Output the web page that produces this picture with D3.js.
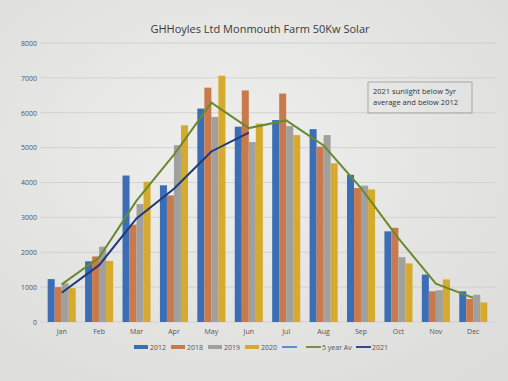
<html>
<script src='https://d3js.org/d3.v7.min.js'></script>
<style>
  body { margin: 0; background: #e3e3e1; }
  text { font-family: "Open Sans", "Liberation Sans", sans-serif; }
</style>
<body onload='init()'>
<svg width=508 height=381>
</svg>
<script>
// Monthly generation (kWh)
const months = ["Jan","Feb","Mar","Apr","May","Jun","Jul","Aug","Sep","Oct","Nov","Dec"];
const barSeries = ["2012","2018","2019","2020"];
const v2012 = [1230, 1740, 4200, 3920, 6120, 5600, 5790, 5530, 4220, 2600, 1360, 880];
const v2018 = [1000, 1880, 2790, 3630, 6720, 6640, 6550, 5030, 3840, 2700, 880, 660];
const v2019 = [1110, 2160, 3380, 5070, 5880, 5160, 5620, 5360, 3910, 1860, 910, 780];
const v2020 = [970, 1750, 4020, 5640, 7060, 5690, 5360, 4550, 3800, 1680, 1220, 560];
const fiveYearAv = [1080, 1850, 3480, 4800, 6290, 5560, 5780, 5060, 3840, 2400, 1100, 690];
const v2021 = [840, 1630, 2970, 3820, 4890, 5430];
const yTicks = [0, 1000, 2000, 3000, 4000, 5000, 6000, 7000, 8000];

function init() {
  const svg = d3.select("svg");

  // paper-like background shading from the photo
  const defs = svg.append("defs");
  const grad = defs.append("radialGradient").attr("id", "paper")
    .attr("cx", "45%").attr("cy", "40%").attr("r", "75%");
  grad.append("stop").attr("offset", "0%").attr("stop-color", "#efefed");
  grad.append("stop").attr("offset", "100%").attr("stop-color", "#dcdcda");
  svg.append("rect").attr("width", 508).attr("height", 381).attr("fill", "url(#paper)");

  const colors = {"2012": "#3b6eb4", "2018": "#c97a4c", "2019": "#a0a09f", "2020": "#d6aa2c"};

  const x = d3.scaleBand().domain(months).range([43, 492]).paddingInner(0.25).paddingOuter(0.125);
  const xs = d3.scaleBand().domain(barSeries).range([0, x.bandwidth()]);
  const y = d3.scaleLinear().domain([0, 8000]).range([322, 43]);

  // grid lines
  svg.append("g")
    .selectAll("line")
    .data(yTicks)
    .enter()
    .append("line")
      .attr("x1", 40).attr("x2", 496)
      .attr("y1", d => y(d)).attr("y2", d => y(d))
      .attr("stroke", "#cdcdcb").attr("stroke-width", 0.8);

  // y axis labels
  svg.append("g")
    .attr("transform", "translate(37,0)")
    .call(d3.axisLeft(y).tickValues(yTicks).tickFormat(d3.format("d")).tickSize(0).tickPadding(0))
    .call(g => g.select(".domain").remove())
    .selectAll("text")
      .attr("fill", "#555")
      .style("font-size", "7px");

  // x axis labels
  svg.append("g")
    .attr("transform", "translate(0,326)")
    .call(d3.axisBottom(x).tickSize(0).tickPadding(3))
    .call(g => g.select(".domain").remove())
    .selectAll("text")
      .attr("fill", "#555")
      .style("font-size", "7px");

  // bars
  const table = months.map((m, i) => ({
    month: m,
    vals: [v2012[i], v2018[i], v2019[i], v2020[i]].map((v, j) => ({key: barSeries[j], value: v}))
  }));
  svg.append("g")
    .selectAll("g")
    .data(table)
    .enter()
    .append("g")
      .attr("transform", d => "translate(" + x(d.month) + ",0)")
    .selectAll("rect")
    .data(d => d.vals)
    .enter()
    .append("rect")
      .attr("x", d => xs(d.key))
      .attr("width", xs.bandwidth())
      .attr("y", d => y(d.value))
      .attr("height", d => y(0) - y(d.value))
      .attr("fill", d => colors[d.key]);

  // lines
  const line = d3.line()
    .x((d, i) => x(months[i]) + x.bandwidth() / 2)
    .y(d => y(d));
  svg.append("path").datum(fiveYearAv)
    .attr("d", line).attr("fill", "none")
    .attr("stroke", "#6a8a2e").attr("stroke-width", 2);
  svg.append("path").datum(v2021)
    .attr("d", line).attr("fill", "none")
    .attr("stroke", "#1f3a7a").attr("stroke-width", 2);

  // title
  svg.append("text")
    .attr("x", 260).attr("y", 33)
    .attr("text-anchor", "middle")
    .attr("fill", "#3a3a3a")
    .style("font-size", "11px")
    .text("GHHoyles Ltd Monmouth Farm 50Kw Solar");

  // annotation box
  svg.append("rect")
    .attr("x", 368).attr("y", 82).attr("width", 104).attr("height", 31)
    .attr("fill", "none").attr("stroke", "#9a9a98").attr("stroke-width", 0.8);
  svg.append("text")
    .attr("x", 373).attr("y", 94)
    .attr("fill", "#333").style("font-size", "7.5px")
    .selectAll("tspan")
    .data(["2021 sunlight below 5yr", "average and below 2012"])
    .enter()
    .append("tspan")
      .attr("x", 373)
      .attr("dy", (d, i) => i === 0 ? 0 : 11)
      .text(d => d);

  // legend
  const legendItems = [
    {label: "2012", color: colors["2012"], type: "bar", x: 134},
    {label: "2018", color: colors["2018"], type: "bar", x: 171},
    {label: "2019", color: colors["2019"], type: "bar", x: 208},
    {label: "2020", color: colors["2020"], type: "bar", x: 245},
    {label: "", color: "#4a86c8", type: "line", x: 282},
    {label: "5 year Av", color: "#6a8a2e", type: "line", x: 306},
    {label: "2021", color: "#1f3a7a", type: "line", x: 356}
  ];
  const lg = svg.append("g").attr("transform", "translate(0,347)")
    .selectAll("g")
    .data(legendItems)
    .enter()
    .append("g")
      .attr("transform", d => "translate(" + d.x + ",0)");
  lg.filter(d => d.type === "bar").append("rect")
    .attr("x", 0).attr("y", -2).attr("width", 14).attr("height", 4)
    .attr("fill", d => d.color);
  lg.filter(d => d.type === "line").append("line")
    .attr("x1", 0).attr("x2", 15).attr("y1", 0).attr("y2", 0)
    .attr("stroke", d => d.color).attr("stroke-width", 1.8);
  lg.append("text")
    .attr("x", 16).attr("y", 2.5)
    .attr("fill", "#555").style("font-size", "7px")
    .text(d => d.label);
}
</script>
</body>
</html>
